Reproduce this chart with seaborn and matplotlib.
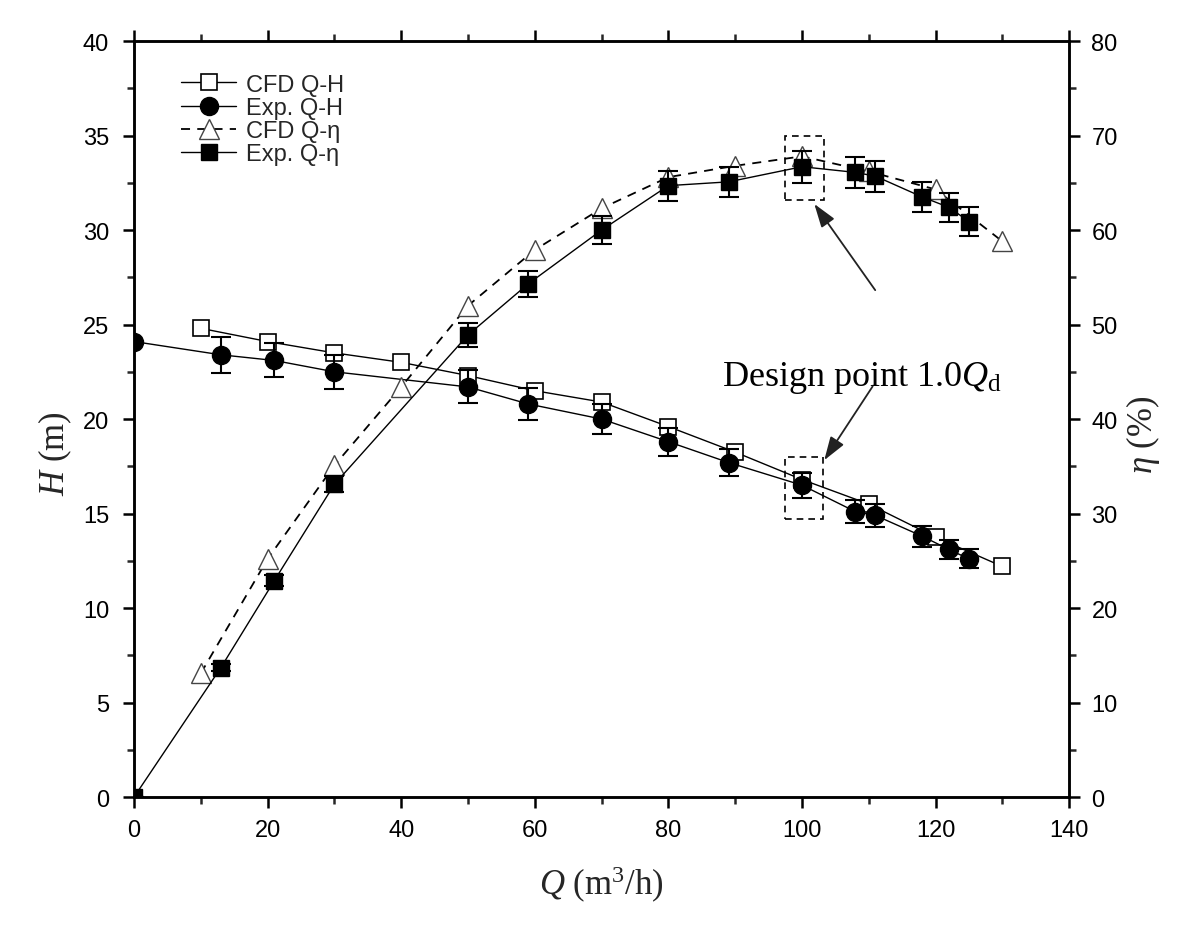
import numpy as np
import pandas as pd
import matplotlib
matplotlib.use("Agg")
import matplotlib.pyplot as plt
import seaborn as sns
from matplotlib.lines import Line2D
from matplotlib.patches import Rectangle
from matplotlib.ticker import MultipleLocator

# ---------------- data ----------------
cfd_q_h = [10, 20, 30, 40, 50, 60, 70, 80, 90, 100, 110, 120, 130]
cfd_h = [24.8, 24.1, 23.5, 23.0, 22.3, 21.5, 20.9, 19.6, 18.25, 16.8, 15.5, 13.75, 12.2]

exp_q = [0, 13, 21, 30, 50, 59, 70, 80, 89, 100, 108, 111, 118, 122, 125]
exp_h = [24.1, 23.4, 23.1, 22.5, 21.7, 20.8, 20.0, 18.8, 17.7, 16.5, 15.1, 14.9, 13.8, 13.1, 12.6]
exp_h_err = [0.0, 0.95, 0.9, 0.9, 0.87, 0.83, 0.8, 0.75, 0.7, 0.66, 0.6, 0.6, 0.55, 0.52, 0.5]

cfd_q_eta = [10, 20, 30, 40, 50, 60, 70, 80, 90, 100, 110, 120, 130]
cfd_eta = [13.1, 25.2, 35.1, 43.4, 52.0, 57.9, 62.3, 65.6, 66.8, 67.8, 66.2, 64.3, 58.8]

exp_eta = [0.0, 13.7, 22.9, 33.1, 48.9, 54.3, 60.0, 64.7, 65.1, 66.7, 66.1, 65.7, 63.5, 62.4, 60.9]
exp_eta_err = [0.0, 0.35, 0.6, 0.85, 1.3, 1.4, 1.5, 1.6, 1.6, 1.7, 1.65, 1.65, 1.6, 1.55, 1.5]

legend_labels = ["CFD Q-H", "Exp. Q-H", "CFD Q-\u03b7", "Exp. Q-\u03b7"]
annotation_text = r"Design point 1.0$\mathit{Q}_{\mathrm{d}}$"

# ---------------- style ----------------
sns.set_theme(style="ticks")
plt.rcParams["font.family"] = ["Liberation Sans", "DejaVu Sans"]
plt.rcParams["mathtext.fontset"] = "custom"
plt.rcParams["mathtext.rm"] = "Liberation Serif"
plt.rcParams["mathtext.it"] = "Liberation Serif:italic"

fig = plt.figure(figsize=(12, 9.28), dpi=100)
ax = fig.add_axes([0.1117, 0.140, 0.7793, 0.8147])
ax2 = ax.twinx()

df_cfd_h = pd.DataFrame({"Q": cfd_q_h, "H": cfd_h})
df_exp = pd.DataFrame({"Q": exp_q, "H": exp_h, "Herr": exp_h_err, "eta": exp_eta, "etaerr": exp_eta_err})
df_cfd_eta = pd.DataFrame({"Q": cfd_q_eta, "eta": cfd_eta})

lw = 1.0
# CFD Q-H
sns.lineplot(data=df_cfd_h, x="Q", y="H", ax=ax, sort=False, color="black", linewidth=lw,
             marker="s", markersize=11, markerfacecolor="white", markeredgecolor="black",
             markeredgewidth=1.2, zorder=3)
# Exp Q-H
ax.errorbar(df_exp["Q"], df_exp["H"], yerr=df_exp["Herr"], fmt="none", ecolor="black",
            elinewidth=1.5, capsize=7, capthick=1.5, zorder=4)
sns.lineplot(data=df_exp, x="Q", y="H", ax=ax, sort=False, color="black", linewidth=lw,
             marker="o", markersize=13, markerfacecolor="black", markeredgecolor="black",
             markeredgewidth=1, zorder=5)

# CFD Q-eta
sns.lineplot(data=df_cfd_eta, x="Q", y="eta", ax=ax2, sort=False, color="black", linewidth=1.3,
             linestyle=(0, (5, 4)), marker="^", markersize=14, markerfacecolor="white",
             markeredgecolor="#444444", markeredgewidth=1.0, zorder=3)
# Exp Q-eta
ax2.errorbar(df_exp["Q"], df_exp["eta"], yerr=df_exp["etaerr"], fmt="none", ecolor="black",
             elinewidth=1.5, capsize=7, capthick=1.5, zorder=4)
sns.lineplot(data=df_exp, x="Q", y="eta", ax=ax2, sort=False, color="black", linewidth=lw,
             marker="s", markersize=12, markerfacecolor="black", markeredgecolor="black",
             markeredgewidth=1, zorder=5)

# ---------------- axes ----------------
ax.set_xlim(0, 140)
ax.set_ylim(0, 40)
ax2.set_ylim(0, 80)
ax.xaxis.set_major_locator(MultipleLocator(20))
ax.xaxis.set_minor_locator(MultipleLocator(10))
ax.yaxis.set_major_locator(MultipleLocator(5))
ax.yaxis.set_minor_locator(MultipleLocator(2.5))
ax2.yaxis.set_major_locator(MultipleLocator(10))
ax2.yaxis.set_minor_locator(MultipleLocator(5))

for a in (ax, ax2):
    for s in a.spines.values():
        s.set_visible(True)
        s.set_linewidth(1.8)
        s.set_color("black")

ax.tick_params(axis="both", which="major", direction="out", length=8, width=1.8,
               labelsize=17, colors="black", top=True, labeltop=False)
ax.tick_params(axis="both", which="minor", direction="out", length=5, width=1.8, top=True)
ax.tick_params(axis="y", pad=10)
ax.tick_params(axis="x", pad=8)
ax2.tick_params(axis="y", which="major", direction="out", length=8, width=1.8, labelsize=17,
                colors="black", pad=8)
ax2.tick_params(axis="y", which="minor", direction="out", length=5, width=1.8)

ax.set_xlabel(r"$\mathit{Q}$ (m$^{3}$/h)", fontsize=25, family="Liberation Serif", labelpad=16)
ax.set_ylabel(r"$\mathit{H}$ (m)", fontsize=25, family="Liberation Serif")
ax2.set_ylabel(r"$\mathit{\eta}$ (%)", fontsize=25, family="Liberation Serif")
ax.yaxis.set_label_coords(-0.064, 0.455)
ax2.yaxis.set_label_coords(1.059, 0.48)

# ---------------- annotations ----------------
for (x0, y0, w, h) in [(97.5, 31.6, 5.8, 3.4), (97.5, 14.7, 5.6, 3.3)]:
    ax.add_patch(Rectangle((x0, y0), w, h, fill=False, edgecolor="black",
                           linestyle=(0, (4, 3)), linewidth=1.2, zorder=6))

ax.text(88, 22.2, annotation_text, fontsize=26, family="Liberation Serif",
        va="center", ha="left", color="black")
arrow_kw = dict(arrowstyle="-|>,head_length=1.2,head_width=0.4", color="#222222", lw=1.3)
ax.annotate("", xy=(101.6, 31.5), xytext=(111.2, 26.7), arrowprops=arrow_kw)
ax.annotate("", xy=(103.1, 17.7), xytext=(110.8, 21.85), arrowprops=arrow_kw)

# ---------------- legend ----------------
handles = [
    Line2D([], [], color="black", lw=lw, marker="s", ms=11, mfc="white", mec="black", mew=1.2),
    Line2D([], [], color="black", lw=lw, marker="o", ms=13, mfc="black", mec="black"),
    Line2D([], [], color="black", lw=1.3, linestyle=(0, (5, 4)), marker="^", ms=14,
           mfc="white", mec="#444444", mew=1.0),
    Line2D([], [], color="black", lw=lw, marker="s", ms=12, mfc="black", mec="black"),
]
leg = ax.legend(handles, legend_labels, loc="upper left", bbox_to_anchor=(0.028, 0.985),
                frameon=False, fontsize=17, handlelength=2.3, handletextpad=0.45,
                labelspacing=0.05)

fig.savefig("out.png", dpi=100)
